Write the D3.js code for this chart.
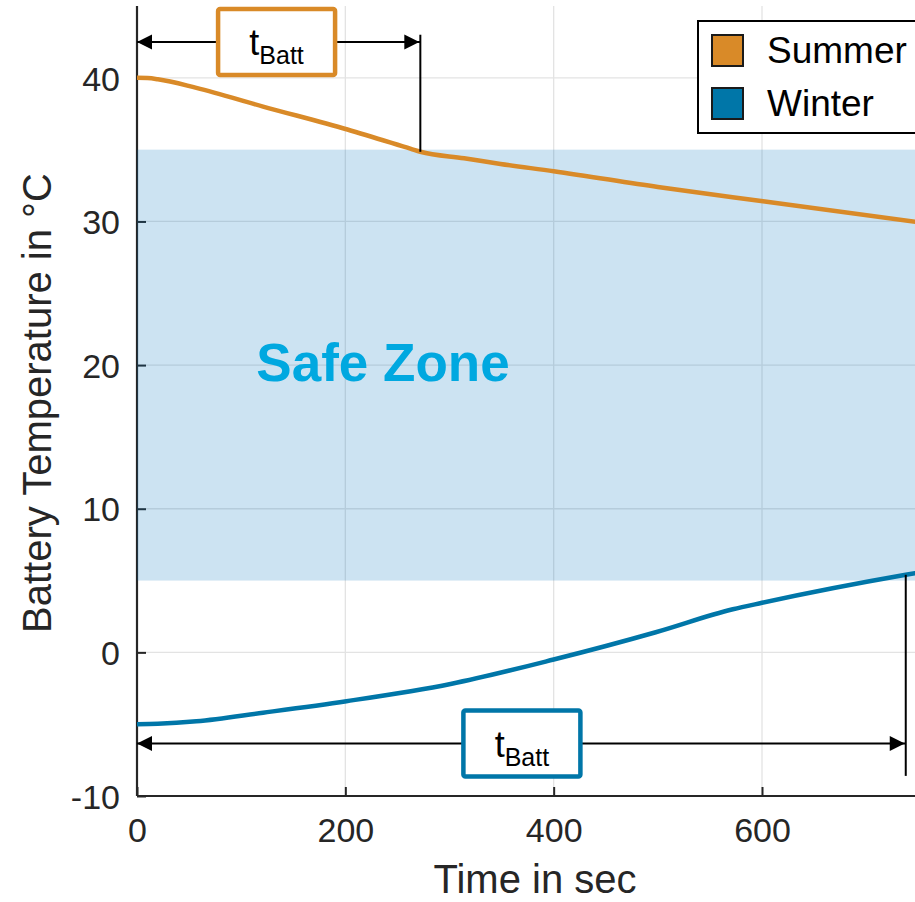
<!DOCTYPE html>
<html lang="en">
<head>
    <meta charset="UTF-8">
    <title>Battery Temperature</title>
    <script src="https://d3js.org/d3.v7.min.js"></script>
    <style>
        body { margin: 0; background: #fff; }
        text { font-family: "Liberation Sans", Arial, sans-serif; }
    </style>
</head>
<body>
<script>
    const width = 915;
    const height = 902;

    // series: [time in sec, temperature in °C]
    const summer = [[0, 40], [10, 39.98], [20, 39.9], [57, 39.3], [121, 38.0], [202, 36.4],
                    [263, 35.05], [272, 34.85], [314, 34.4], [349, 34.0], [400, 33.5],
                    [500, 32.4], [601, 31.4], [750, 29.95]];
    const winter = [[0, -5.0], [20, -4.97], [57, -4.8], [121, -4.2], [201, -3.4], [301, -2.2], [400, -0.5],
                    [498, 1.4], [572, 3.0], [600, 3.45], [738, 5.4], [750, 5.55]];
    const seriesNames = ["Summer", "Winter"];
    const seriesColors = ["#d98a28", "#0076a8"];
    const safeZone = [5, 35];
    const xTicks = [0, 200, 400, 600];
    const yTicks = [-10, 0, 10, 20, 30, 40];
    // t_Batt annotations: [x start, x end, arrow y, marker bottom, marker top, box centre x]
    const tSummer = [0, 272, 42.5, 34.85, 43.0, 134];
    const tWinter = [0, 738, -6.35, 5.4, -8.6, 369.5];

    const x = d3.scaleLinear().domain([0, 750]).range([137, 137 + 750 * 625 / 600]);
    const y = d3.scaleLinear().domain([-10, 45]).range([796, 6]);

    const svg = d3.select("body").append("svg")
        .attr("width", width).attr("height", height);

    // grid
    svg.append("g").selectAll("line.gx")
        .data(xTicks.slice(1)).enter().append("line")
        .attr("x1", d => x(d)).attr("x2", d => x(d))
        .attr("y1", y(45)).attr("y2", y(-10))
        .attr("stroke", "#e3e3e3").attr("stroke-width", 1.3);
    svg.append("g").selectAll("line.gy")
        .data(yTicks.slice(1)).enter().append("line")
        .attr("x1", x(0)).attr("x2", width)
        .attr("y1", d => y(d)).attr("y2", d => y(d))
        .attr("stroke", "#e3e3e3").attr("stroke-width", 1.3);

    // axes
    const xAxis = d3.axisBottom(x).tickValues(xTicks).tickSize(-9).tickPadding(22)
        .tickFormat(d => String(d));
    const yAxis = d3.axisLeft(y).tickValues(yTicks).tickSize(-9).tickPadding(17)
        .tickFormat(d => String(d));

    const gx = svg.append("g").attr("transform", `translate(0,${y(-10)})`).call(xAxis);
    const gy = svg.append("g").attr("transform", `translate(${x(0)},0)`).call(yAxis);
    [gx, gy].forEach(g => {
        g.select(".domain").attr("stroke", "#262626").attr("stroke-width", 2.2);
        g.selectAll(".tick line").attr("stroke", "#262626").attr("stroke-width", 2);
        g.selectAll(".tick text").attr("fill", "#262626")
            .style("font-size", "34px").style("font-family", "'Liberation Sans', Arial, sans-serif");
    });
    gx.select(".domain").attr("d", `M${x(0)},0H${width}`);
    gy.select(".domain").attr("d", `M0,${y(45)}V${y(-10)}`);
    gy.selectAll(".tick text").attr("dy", "0.36em");

    // safe zone band (semi transparent over grid and axes)
    svg.append("rect")
        .attr("x", x(0)).attr("width", width - x(0))
        .attr("y", y(safeZone[1])).attr("height", y(safeZone[0]) - y(safeZone[1]))
        .attr("fill", "#0072bd").attr("fill-opacity", 0.2);

    svg.append("text")
        .attr("x", 383).attr("y", 381)
        .attr("text-anchor", "middle")
        .attr("fill", "#00a8e0")
        .style("font-size", "53px").style("font-weight", "bold")
        .text("Safe Zone");

    // curves
    const line = d3.line().x(d => x(d[0])).y(d => y(d[1])).curve(d3.curveMonotoneX);
    [summer, winter].forEach((s, i) => {
        svg.append("path").datum(s)
            .attr("d", line)
            .attr("fill", "none")
            .attr("stroke", seriesColors[i])
            .attr("stroke-width", 4.5);
    });

    // t_Batt annotations
    function arrowHead(px, py, dir) {
        const len = 15, hw = 7.5;
        return `M${px},${py}L${px - dir * len},${py - hw}L${px - dir * len},${py + hw}Z`;
    }
    [tSummer, tWinter].forEach((a, i) => {
        const g = svg.append("g");
        const x0 = x(a[0]), x1 = x(a[1]), ay = y(a[2]);
        g.append("line").attr("x1", x0).attr("x2", x1).attr("y1", ay).attr("y2", ay)
            .attr("stroke", "#000").attr("stroke-width", 2);
        g.append("line").attr("x1", x1).attr("x2", x1).attr("y1", y(a[3])).attr("y2", y(a[4]))
            .attr("stroke", "#000").attr("stroke-width", 2);
        g.append("path").attr("d", arrowHead(x0, ay, -1)).attr("fill", "#000");
        g.append("path").attr("d", arrowHead(x1 - 1, ay, 1)).attr("fill", "#000");
        const cx = x(a[5]), bw = 117, bh = 66;
        g.append("rect")
            .attr("x", cx - bw / 2).attr("y", ay - bh / 2)
            .attr("width", bw).attr("height", bh).attr("rx", 2)
            .attr("fill", "#fff").attr("stroke", seriesColors[i]).attr("stroke-width", 4.5);
        const t = g.append("text")
            .attr("x", cx).attr("y", ay + 13)
            .attr("text-anchor", "middle").attr("fill", "#000");
        t.append("tspan").style("font-size", "36px").text("t");
        t.append("tspan").attr("dy", 9).style("font-size", "25px").text("Batt");
    });

    // legend
    const legend = svg.append("g");
    legend.append("rect")
        .attr("x", 698).attr("y", 21).attr("width", 260).attr("height", 112)
        .attr("fill", "#fff").attr("stroke", "#000").attr("stroke-width", 2);
    seriesNames.forEach((name, i) => {
        legend.append("rect")
            .attr("x", 712).attr("y", 35 + i * 53).attr("width", 31).attr("height", 31)
            .attr("fill", seriesColors[i]).attr("stroke", "#1a1a1a").attr("stroke-width", 2);
        legend.append("text")
            .attr("x", 767).attr("y", 63 + i * 53)
            .attr("fill", "#000")
            .style("font-size", "37px")
            .text(name);
    });

    // axis labels
    svg.append("text")
        .attr("x", 535).attr("y", 893)
        .attr("text-anchor", "middle").attr("fill", "#262626")
        .style("font-size", "40px")
        .text("Time in sec");
    svg.append("text")
        .attr("transform", "translate(51,403) rotate(-90)")
        .attr("text-anchor", "middle").attr("fill", "#262626")
        .style("font-size", "40px")
        .text("Battery Temperature in °C");
</script>
</body>
</html>
